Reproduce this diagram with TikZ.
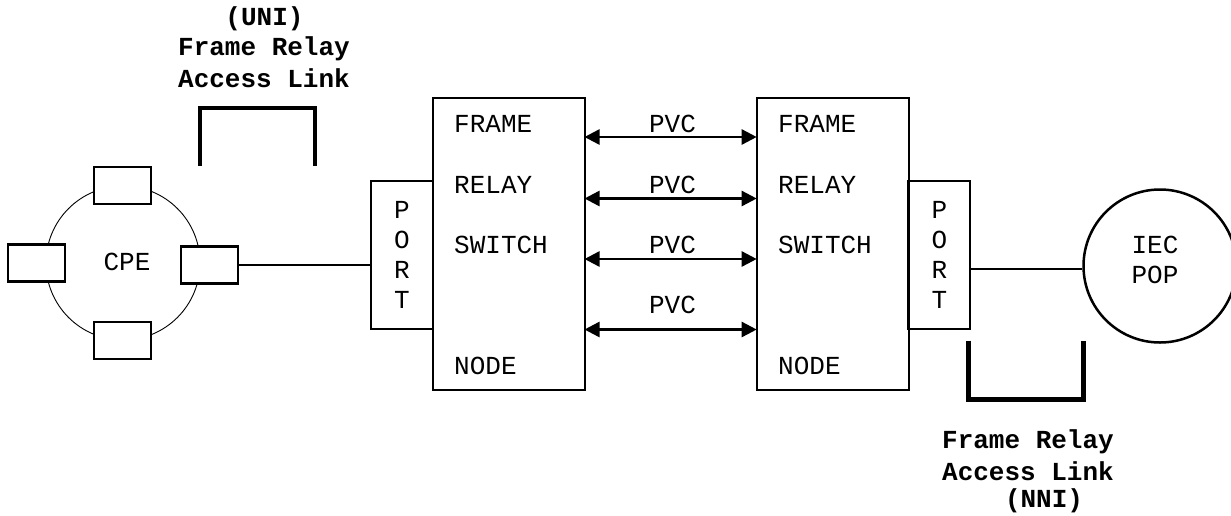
\documentclass[tikz,border=0pt]{standalone}
\usepackage{fontspec}
\setmainfont{Liberation Mono}
\usetikzlibrary{arrows.meta}
\begin{document}
\begin{tikzpicture}[x=1pt,y=-1pt,
  lbl/.style={inner sep=0pt,font=\fontsize{26}{30}\selectfont},
  blbl/.style={inner sep=0pt,font=\fontsize{26}{30}\selectfont\bfseries},
  smallbox/.style={draw,line width=2.6pt,fill=white,minimum width=57pt,minimum height=37pt,inner sep=0pt},
  portbox/.style={draw,line width=2pt,minimum width=62pt,minimum height=148pt,inner sep=0pt,align=center,font=\fontsize{26}{30}\selectfont},
  swbox/.style={draw,line width=2pt,minimum width=152pt,minimum height=292pt,inner sep=0pt},
  pvc/.style={{Triangle[length=15pt,width=15pt]}-{Triangle[length=15pt,width=15pt]},line width=2.5pt},
  wire/.style={line width=2pt},
  bracket/.style={line width=4.5pt}
]
\useasboundingbox (0,0) rectangle (1231,515);
% CPE
\node[circle,draw,line width=0.9pt,minimum size=154pt,inner sep=0pt] (cpe) at (123,263) {};
\node[lbl] (cpelbl) at (127,262) {CPE};
\node[smallbox] (cpet) at (122.5,185.5) {};
\node[smallbox] (cpeb) at (122.5,340.5) {};
\node[smallbox] (cpel) at (36.5,263) {};
\node[smallbox] (cper) at (209.5,265) {};
% ports and switches
\node[portbox] (port1) at (402,255) {P\\O\\R\\T};
\node[swbox] (sw1) at (508.5,244) {};
\node[swbox] (sw2) at (832.7,244) {};
\node[portbox] (port2) at (939.3,255) {P\\O\\R\\T};
\foreach \n/\x in {a/454,b/778}{
  \node[lbl,anchor=west] (\n1) at (\x,123.5) {FRAME};
  \node[lbl,anchor=west] (\n2) at (\x,184.5) {RELAY};
  \node[lbl,anchor=west] (\n3) at (\x,244.5) {SWITCH};
  \node[lbl,anchor=west] (\n4) at (\x,366) {NODE};
}
% PVCs
\foreach \i/\ya/\yl in {1/137/123.5,2/198.5/184.5,3/259/244.5,4/329.5/305}{
  \coordinate (pl\i) at (584.5,\ya);
  \coordinate (pr\i) at (756.7,\ya);
  \draw[pvc] (pl\i) -- (pr\i);
  \node[lbl] (pvc\i) at (672.5,\yl) {PVC};
}
% IEC POP
\node[circle,draw,line width=2.5pt,minimum size=153pt,inner sep=0pt,align=center,font=\fontsize{26}{30}\selectfont] (iec) at (1160,266) {};
\node[lbl] (iec1) at (1155,244.5) {IEC};
\node[lbl] (iec2) at (1155,274.5) {POP};
% wires
\draw[wire] (cper.east) -- (cper.east -| port1.west);
\draw[wire] (port2.east |- 0,269) -- (iec.west |- 0,269);
% UNI bracket
\coordinate (u1) at (200,166);
\coordinate (u2) at (315,166);
\draw[bracket] (u1) -- (200,108) -- (315,108) -- (u2);
\node[blbl] (uni1) at (264.5,18.5) {(UNI)};
\node[blbl] (uni2) at (264,48.5) {Frame Relay};
\node[blbl] (uni3) at (264,78) {Access Link};
% NNI bracket
\coordinate (n1) at (968.5,340.5);
\coordinate (n2) at (1083.5,340.5);
\draw[bracket] (n1) -- (968.5,399.5) -- (1083.5,399.5) -- (n2);
\node[blbl] (nni1) at (1028,442) {Frame Relay};
\node[blbl] (nni2) at (1028,471.5) {Access Link};
\node[blbl] (nni3) at (1044,500.5) {(NNI)};
\end{tikzpicture}
\end{document}
